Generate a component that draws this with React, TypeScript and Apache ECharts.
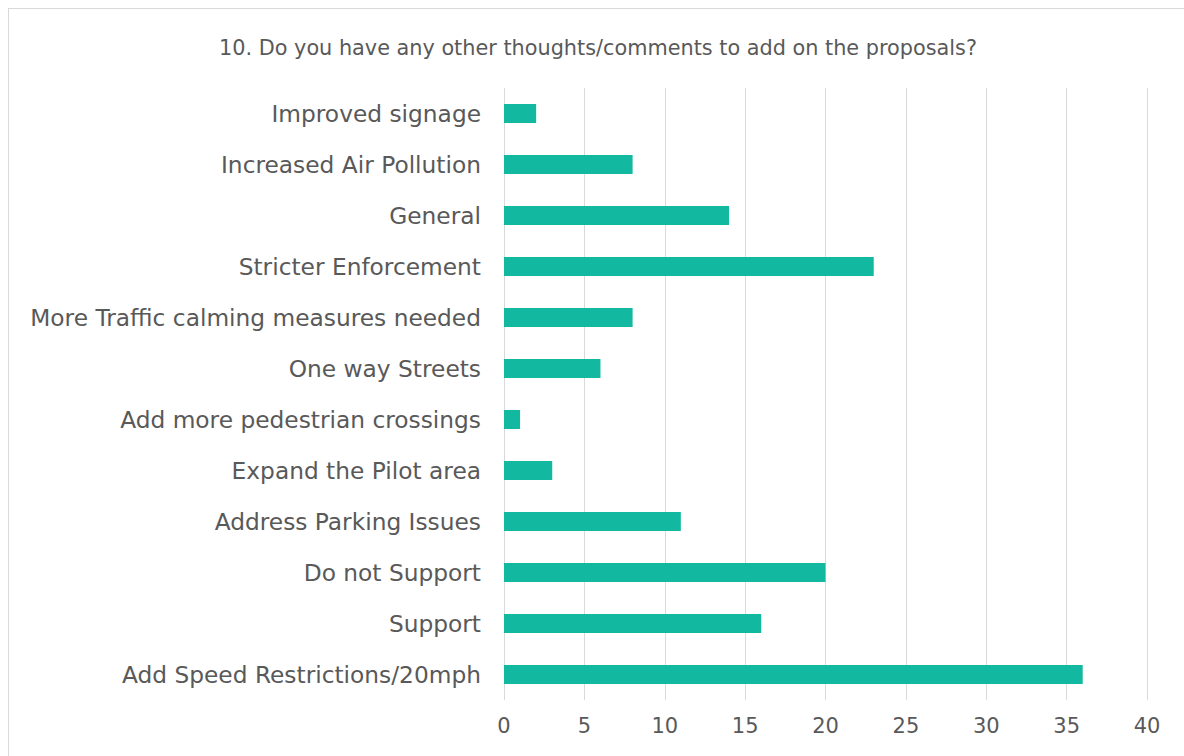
import React, { useEffect, useRef } from "react";
import * as echarts from "echarts";

const title = "10. Do you have any other thoughts/comments to add on the proposals?";
const categories = [
  "Add Speed Restrictions/20mph",
  "Support",
  "Do not Support",
  "Address Parking Issues",
  "Expand the Pilot area",
  "Add more pedestrian crossings",
  "One way Streets",
  "More Traffic calming measures needed",
  "Stricter Enforcement",
  "General",
  "Increased Air Pollution",
  "Improved signage",
];
const values = [36, 16, 20, 11, 3, 1, 6, 8, 23, 14, 8, 2];
const axisMin = 0;
const axisMax = 40;
const axisStep = 5;

const FONT = "DejaVu Sans";

export default function App() {
  const ref = useRef<HTMLDivElement>(null);
  useEffect(() => {
    const chart = echarts.init(ref.current!, null, { renderer: "svg" });
    chart.setOption({
      animation: false,
      backgroundColor: "transparent",
      title: {
        text: title,
        left: 593,
        textAlign: "center",
        top: 32,
        textStyle: { fontFamily: FONT, fontSize: 20.8, fontWeight: "normal", color: "#595959" },
      },
      grid: { left: 504, right: 37, top: 88, bottom: 56, containLabel: false },
      xAxis: {
        type: "value",
        min: axisMin,
        max: axisMax,
        interval: axisStep,
        axisLine: { show: false },
        axisTick: { show: false },
        splitLine: { show: true, lineStyle: { color: "#d9d9d9", width: 1 } },
        axisLabel: { fontFamily: FONT, fontSize: 21, color: "#595959", margin: 15 },
      },
      yAxis: {
        type: "category",
        data: categories,
        axisLine: { show: false },
        axisTick: { show: false },
        axisLabel: { fontFamily: FONT, fontSize: 23.3, color: "#595959", margin: 23 },
      },
      series: [
        {
          type: "bar",
          data: values,
          barWidth: 19,
          itemStyle: { color: "#12B9A0" },
        },
      ],
    });
    return () => chart.dispose();
  }, []);
  return (
    <div style={{ position: "fixed", left: 0, top: 0, width: 1184, height: 756, overflow: "hidden", background: "#fff" }}>
      <div style={{ position: "absolute", left: 8, top: 8, width: 1300, height: 900, border: "1px solid #d9d9d9" }} />
      <div ref={ref} style={{ position: "absolute", left: 0, top: 0, width: 1184, height: 756 }} />
    </div>
  );
}
